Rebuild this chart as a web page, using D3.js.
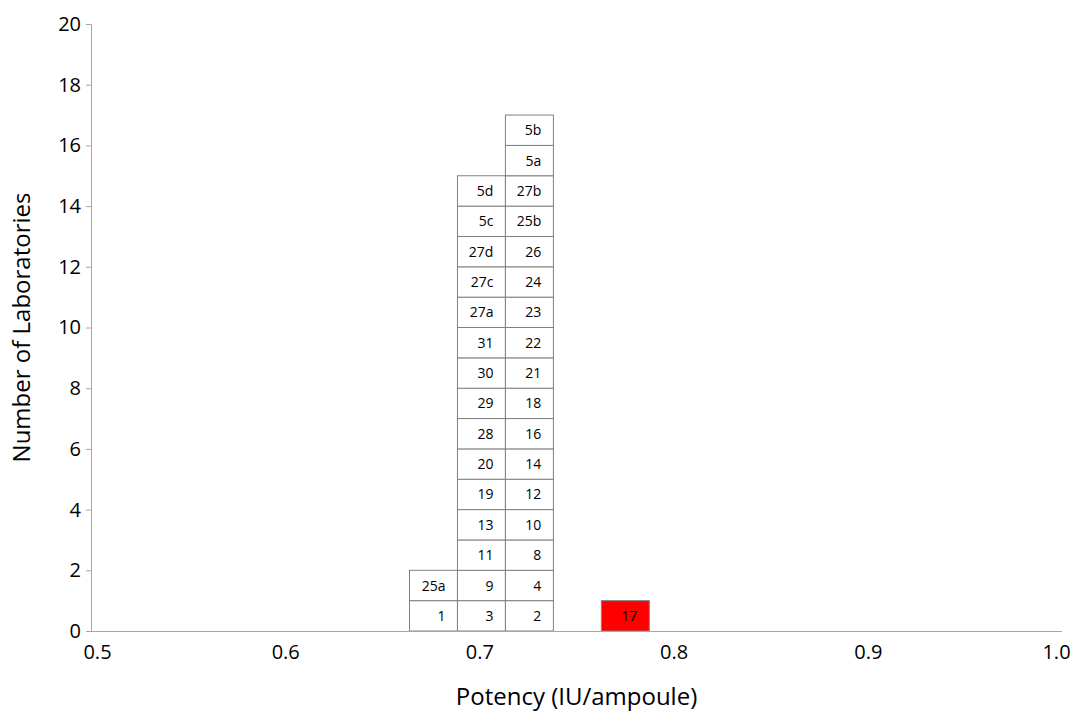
<!DOCTYPE html>
<html>
<head>
<meta charset="utf-8">
<script src="https://cdn.jsdelivr.net/npm/d3@7"></script>
<style>
body { margin: 0; background: #fff; }
text { font-family: "Open Sans", "DejaVu Sans", sans-serif; fill: #000; }
</style>
</head>
<body>
<div id="chart-area"></div>
<script>
// Histogram of lab potency estimates, each lab is a stacked box
var binStarts = [0.664, 0.6887, 0.7134, 0.7628];
var binWidth = 0.0247;
var binLabs = [
	["1", "25a"],
	["3", "9", "11", "13", "19", "20", "28", "29", "30", "31", "27a", "27c", "27d", "5c", "5d"],
	["2", "4", "8", "10", "12", "14", "16", "18", "21", "22", "23", "24", "26", "25b", "27b", "5a", "5b"],
	["17"]
];
var highlighted = ["17"];
var xTicks = [0.5, 0.6, 0.7, 0.8, 0.9, 1.0];
var yTicks = [0, 2, 4, 6, 8, 10, 12, 14, 16, 18, 20];

var width = 1075, height = 713;
var margin = {top: 24, right: 13, bottom: 82, left: 91};
var w = width - margin.left - margin.right,
	h = height - margin.top - margin.bottom;

var svg = d3.select("#chart-area").append("svg")
	.attr("width", width)
	.attr("height", height)
	.append("g")
	.attr("transform", "translate(" + margin.left + "," + margin.top + ")");

var x = d3.scaleLinear().domain([0.5, 1.0]).range([0, w]);
var y = d3.scaleLinear().domain([0, 20]).range([h, 0]);

// flatten into boxes
var boxes = [];
binLabs.forEach(function(labs, i) {
	labs.forEach(function(lab, j) {
		boxes.push({x0: binStarts[i], level: j, lab: lab});
	});
});

var cells = svg.selectAll(".cell")
	.data(boxes)
	.enter()
	.append("g")
	.attr("class", "cell");

cells.append("rect")
	.attr("x", d => x(d.x0))
	.attr("y", d => y(d.level + 1))
	.attr("width", d => x(d.x0 + binWidth) - x(d.x0))
	.attr("height", d => y(d.level) - y(d.level + 1))
	.attr("fill", d => highlighted.includes(d.lab) ? "#ff0000" : "#fff")
	.attr("stroke", "#808080")
	.attr("stroke-width", 1);

cells.append("text")
	.attr("x", d => x(d.x0 + binWidth) - 12)
	.attr("y", d => (y(d.level) + y(d.level + 1)) / 2)
	.attr("dy", "0.36em")
	.attr("text-anchor", "end")
	.style("font-size", "14px")
	.text(d => d.lab);

// axes
var yAxis = d3.axisLeft(y).tickValues(yTicks).tickSize(5).tickPadding(5).tickFormat(d3.format("d"));
var xAxis = d3.axisBottom(x).tickValues(xTicks).tickSize(0).tickPadding(14).tickFormat(d3.format(".1f"));

var yg = svg.append("g").call(yAxis);
var xg = svg.append("g").attr("transform", "translate(0," + h + ")").call(xAxis);

[yg, xg].forEach(function(g) {
	g.selectAll("path, line").attr("stroke", "#a6a6a6");
	g.selectAll("text").style("font-size", "20px").attr("fill", "#000");
});
// keep end labels inside
xg.selectAll(".tick text")
	.attr("dx", d => d === 0.5 ? 6 : (d === 1.0 ? -6 : 0));
xg.select(".domain").attr("d", "M0,0.5H" + w);

// axis titles
svg.append("text")
	.attr("x", w / 2)
	.attr("y", h + 74)
	.attr("text-anchor", "middle")
	.style("font-size", "24px")
	.text("Potency (IU/ampoule)");

svg.append("text")
	.attr("transform", "translate(" + (-61) + "," + (h / 2) + ") rotate(-90)")
	.attr("text-anchor", "middle")
	.style("font-size", "24px")
	.text("Number of Laboratories");
</script>
</body>
</html>
